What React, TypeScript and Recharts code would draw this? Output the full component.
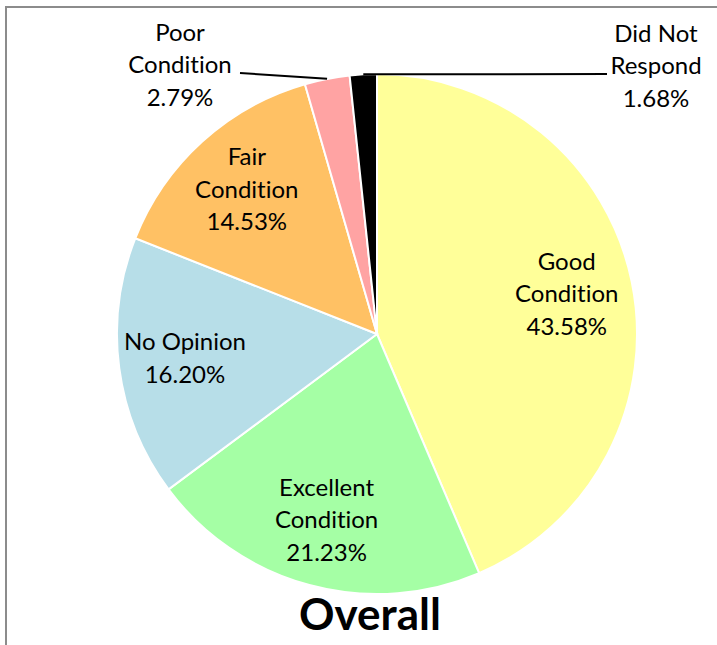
import React from "react";
import { PieChart, Pie, Cell } from "recharts";

const categories = ["Good Condition", "Excellent Condition", "No Opinion", "Fair Condition", "Poor Condition", "Did Not Respond"];
const shares = [43.58, 21.23, 16.2, 14.53, 2.79, 1.68];
const sliceColors = ["#FFFF99", "#A5FFA5", "#B7DEE8", "#FFC164", "#FFA3A3", "#000000"];

const data = categories.map((name, i) => ({ name, value: shares[i] }));

const FONT = "Lato, 'Open Sans', sans-serif";
const LINE_H = 32.5;
const RAD = Math.PI / 180;

function wrap(name: string) {
  if (name.length <= 10) return [name];
  const k = name.lastIndexOf(" ");
  return [name.slice(0, k), name.slice(k + 1)];
}

function lines(name: string, value: number) {
  return [...wrap(name), value.toFixed(2) + "%"];
}

// renders one block of centered lines, middle of block at (x, y)
function TextBlock({ x, y, rows }: { x: number; y: number; rows: string[] }) {
  const mid = (rows.length - 1) / 2;
  return (
    <text textAnchor="middle" fontFamily={FONT} fontSize={24} fill="#000" style={{ fontVariantLigatures: "none" }}>
      {rows.map((r, i) => (
        <tspan key={i} x={x} y={y + 7 + (i - mid) * LINE_H}>
          {r}
        </tspan>
      ))}
    </text>
  );
}

function renderLabel(props: any) {
  const { cx, cy, midAngle, outerRadius, name, value, index } = props;
  const rows = lines(name, value);
  if (value >= 5) {
    const r = outerRadius * 0.745;
    const x = cx + r * Math.cos(-midAngle * RAD);
    const y = cy + r * Math.sin(-midAngle * RAD);
    return <TextBlock key={index} x={x} y={y} rows={rows} />;
  }
  // small slices: label outside, with a leader line from the rim
  const px = cx + outerRadius * Math.cos(-midAngle * RAD);
  const py = cy + outerRadius * Math.sin(-midAngle * RAD);
  const left = px < cx - 25;
  const ex = left ? cx - 137 : cx + 230;
  const ey = cy - outerRadius + (left ? -1 : 0);
  const tx = left ? ex - 60 : ex + 49;
  return (
    <g key={index}>
      <path d={`M${px},${py}L${ex},${ey}`} stroke="#000" strokeWidth={2} fill="none" />
      <TextBlock x={tx} y={ey - 7} rows={rows} />
    </g>
  );
}

export default function App() {
  return (
    <div style={{ position: "absolute", left: 0, top: 0, width: 717, height: 645, background: "#fff", overflow: "hidden" }}>
      <div
        style={{
          position: "absolute",
          left: 5,
          top: 6,
          width: 800,
          height: 800,
          borderTop: "2px solid #8c8c8c",
          borderLeft: "2px solid #8c8c8c",
        }}
      />
      <div style={{ position: "absolute", left: 0, top: 0 }}>
        <PieChart width={717} height={645} margin={{ top: 0, right: 0, bottom: 0, left: 0 }}>
          <Pie
            data={data}
            dataKey="value"
            nameKey="name"
            cx={377}
            cy={334}
            outerRadius={260}
            startAngle={90}
            endAngle={-270}
            stroke="#fff"
            strokeWidth={2}
            label={renderLabel}
            labelLine={false}
            isAnimationActive={false}
          >
            {data.map((d, i) => (
              <Cell key={d.name} fill={sliceColors[i]} />
            ))}
          </Pie>
        </PieChart>
      </div>
      <div
        style={{
          position: "absolute",
          left: 0,
          width: 740,
          top: 587,
          textAlign: "center",
          fontFamily: FONT,
          fontWeight: 700,
          fontSize: 44,
          lineHeight: "52px",
          color: "#000",
        }}
      >
        Overall
      </div>
    </div>
  );
}
